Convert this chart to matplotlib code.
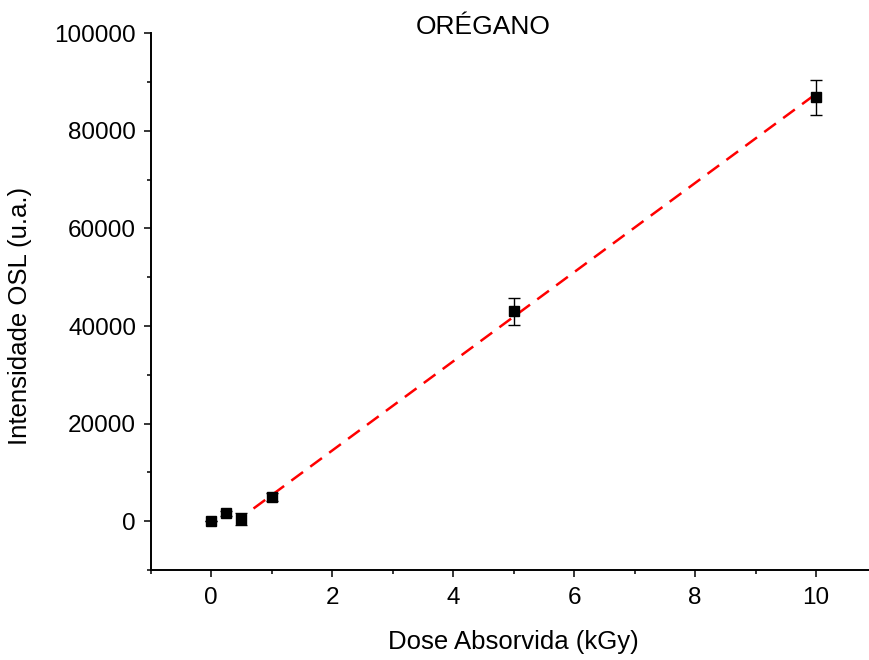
import numpy as np
import matplotlib
matplotlib.use('Agg')
import matplotlib.pyplot as plt
import matplotlib.ticker as mtick

plt.rcParams['font.family'] = ['Liberation Sans', 'DejaVu Sans']

# Dose (kGy) vs OSL intensity, with error bars
dose     = [0.0, 0.25, 0.5, 1.0, 5.0, 10.0]
osl      = [0.0, 1580.0, 470.0, 4980.0, 43000.0, 86880.0]
osl_err  = [0.0, 600.0, 1300.0, 800.0, 2730.0, 3590.0]

# Linear fit
fit_slope     = 9140.0
fit_intercept = -3800.0
fit_range     = [0.7, 10.0]

fig = plt.figure(figsize=(8.69, 6.60), dpi=100, facecolor='w')
ax = fig.add_axes([0.1734, 0.1364, 0.8353, 0.8131])

xfit = np.array(fit_range)
ax.plot(xfit, fit_intercept + fit_slope*xfit, color='red', lw=1.8,
        dashes=(5.8, 3.6), zorder=2)

ax.errorbar(dose, osl, yerr=osl_err, fmt='s', color='black', ms=7.7,
            ecolor='black', elinewidth=1.0, capsize=4.0, capthick=1.0, zorder=3)

ax.set_xlim(-1, 11)
ax.set_ylim(-10000, 100000)
ax.xaxis.set_major_locator(mtick.MultipleLocator(2))
ax.xaxis.set_minor_locator(mtick.MultipleLocator(1))
ax.yaxis.set_major_locator(mtick.MultipleLocator(20000))
ax.yaxis.set_minor_locator(mtick.MultipleLocator(10000))
ax.yaxis.set_major_formatter(mtick.FormatStrFormatter('%d'))

for s in ['top', 'right']:
    ax.spines[s].set_visible(False)
for s in ['left', 'bottom']:
    ax.spines[s].set_linewidth(1.4)

ax.tick_params(which='major', direction='out', length=5, width=1.1, labelsize=17.5)
ax.tick_params(which='minor', direction='out', length=3, width=1.1)
ax.tick_params(axis='x', which='major', pad=7)
ax.tick_params(axis='y', which='major', pad=5.5)

ax.set_xlabel('Dose Absorvida (kGy)', fontsize=18.5)
ax.set_ylabel('Intensidade OSL (u.a.)', fontsize=18.5)
ax.xaxis.set_label_coords(0.5, -0.112)
ax.yaxis.set_label_coords(-0.163, 0.473)

fig.text(0.556, 0.9485, 'ORÉGANO', ha='center', va='baseline', fontsize=19)

fig.savefig('out.png', dpi=100)
